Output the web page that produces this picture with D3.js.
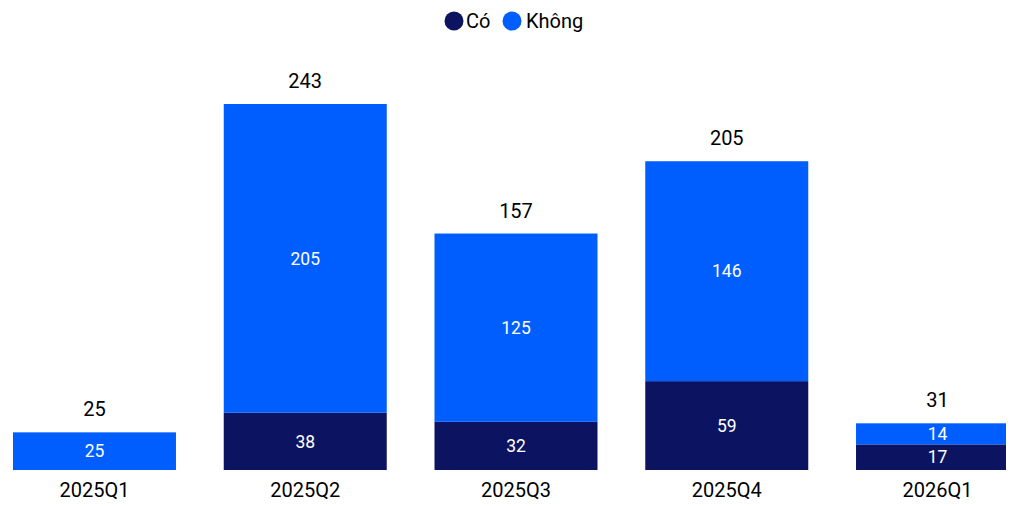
<!DOCTYPE html>
<html>
<head>
<meta charset="utf-8">
<script src="https://cdn.jsdelivr.net/npm/d3@7"></script>
<style>
  html, body { margin: 0; padding: 0; background: #fff; }
  svg { display: block; font-family: Roboto, "Noto Sans", sans-serif; }
</style>
</head>
<body>
<svg id="chart" width="1011" height="506"></svg>
<script>
// Quarterly counts, split by answer
const categories = ["2025Q1", "2025Q2", "2025Q3", "2025Q4", "2026Q1"];
const coValues = [0, 38, 32, 59, 17];
const khongValues = [25, 205, 125, 146, 14];
const seriesNames = ["Có", "Không"];
const seriesColors = ["#0c1462", "#005eff"];

const svg = d3.select("#chart");

const rows = categories.map((c, i) => ({ cat: c, "Có": coValues[i], "Không": khongValues[i] }));
const stacked = d3.stack().keys(seriesNames)(rows);
const totals = rows.map(r => r["Có"] + r["Không"]);

const x = d3.scaleBand()
  .domain(categories)
  .range([-10.9, 1042.9])
  .paddingInner(0.2266)
  .paddingOuter(0.1133);

const y = d3.scaleLinear()
  .domain([0, d3.max(totals)])
  .range([470, 104]);

const color = d3.scaleOrdinal().domain(seriesNames).range(seriesColors);

svg.append("defs").append("clipPath").attr("id", "plot-clip")
  .append("rect").attr("x", 0).attr("y", 0).attr("width", 1006).attr("height", 506);

// Stacked bars
const layers = svg.append("g").attr("clip-path", "url(#plot-clip)")
  .selectAll("g.layer").data(stacked).join("g")
  .attr("class", "layer")
  .attr("fill", d => color(d.key));

layers.selectAll("rect").data(d => d.map(s => ({ s, key: d.key }))).join("rect")
  .attr("x", d => x(d.s.data.cat))
  .attr("width", x.bandwidth())
  .attr("y", d => y(d.s[1]))
  .attr("height", d => y(d.s[0]) - y(d.s[1]));

// Segment value labels
const segLabels = svg.append("g");
stacked.forEach(layer => {
  layer.forEach(s => {
    const v = s[1] - s[0];
    if (v <= 0) return;
    segLabels.append("text")
      .attr("x", x(s.data.cat) + x.bandwidth() / 2)
      .attr("y", (y(s[0]) + y(s[1])) / 2)
      .attr("dy", "0.35em")
      .attr("text-anchor", "middle")
      .attr("fill", "#ffffff")
      .attr("font-size", 17.5)
      .text(v);
  });
});

// Totals above bars
svg.append("g").selectAll("text").data(rows).join("text")
  .attr("x", d => x(d.cat) + x.bandwidth() / 2)
  .attr("y", (d, i) => y(totals[i]) - 23)
  .attr("dy", "0.35em")
  .attr("text-anchor", "middle")
  .attr("fill", "#000")
  .attr("font-size", 20)
  .text((d, i) => totals[i]);

// Category axis
const xAxis = svg.append("g")
  .attr("transform", "translate(0,470)")
  .call(d3.axisBottom(x).tickSize(0).tickPadding(13));
xAxis.select(".domain").remove();
xAxis.selectAll("text")
  .attr("font-size", 20)
  .attr("font-family", "Roboto, 'Noto Sans', sans-serif")
  .attr("fill", "#000");

// Legend
const legendItems = [
  { name: "Có", cx: 454, tx: 466 },
  { name: "Không", cx: 512, tx: 526 }
];
const legend = svg.append("g");
legendItems.forEach(it => {
  legend.append("circle").attr("cx", it.cx).attr("cy", 21).attr("r", 9.5).attr("fill", color(it.name));
  legend.append("text").attr("x", it.tx).attr("y", 21).attr("dy", "0.35em")
    .attr("font-size", 20).attr("fill", "#000").text(it.name);
});
</script>
</body>
</html>
